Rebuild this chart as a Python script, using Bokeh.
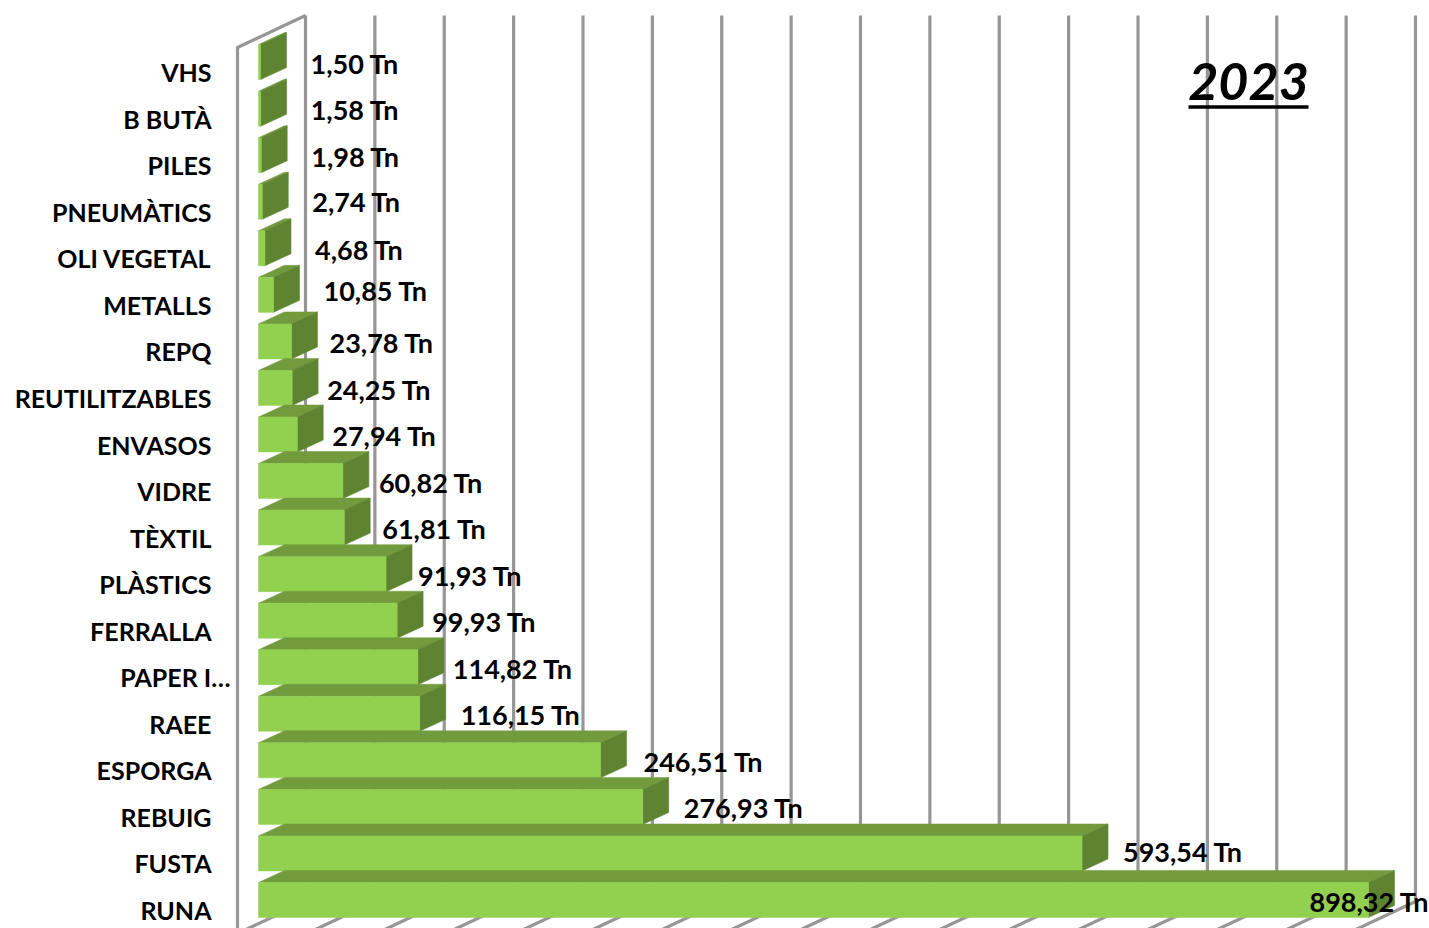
from bokeh.plotting import figure
from bokeh.models import ColumnDataSource, Range1d, Label
from bokeh.core.properties import value
from bokeh.embed import file_html
from bokeh.resources import INLINE

# ---- data ----
categories = ["VHS", "B BUTÀ", "PILES", "PNEUMÀTICS", "OLI VEGETAL", "METALLS", "REPQ",
              "REUTILITZABLES", "ENVASOS", "VIDRE", "TÈXTIL", "PLÀSTICS", "FERRALLA",
              "PAPER I…", "RAEE", "ESPORGA", "REBUIG", "FUSTA", "RUNA"]
tonnes = [1.50, 1.58, 1.98, 2.74, 4.68, 10.85, 23.78, 24.25, 27.94, 60.82, 61.81, 91.93,
          99.93, 114.82, 116.15, 246.51, 276.93, 593.54, 898.32]
value_labels = ["1,50 Tn", "1,58 Tn", "1,98 Tn", "2,74 Tn", "4,68 Tn", "10,85 Tn", "23,78 Tn",
                "24,25 Tn", "27,94 Tn", "60,82 Tn", "61,81 Tn", "91,93 Tn", "99,93 Tn",
                "114,82 Tn", "116,15 Tn", "246,51 Tn", "276,93 Tn", "593,54 Tn", "898,32 Tn"]
axis_ticks = list(range(0, 801, 50))
title_text = "2023"

# ---- layout (page pixels) ----
W, H = 1429, 928
PAGE = 1
BAR_X0 = 259.0          # page x of value 0 on bar plane
PX_PER_T = 1.3875
ROW_LAST_Y = 900.5      # page y of centre of the last row
ROW_STEP = 46.55
BAR_H_PX = 35.0
BAR_DX, BAR_DY = 26.0, 12.0
WALL_X = 238.0
WALL_DX, WALL_DY = 68.0, 32.0
GRID_TOP, GRID_BOTTOM = 16.0, 902.0
N = len(categories)

# per-row nudges of the labels, as drawn by the original (px from bar end / row centre)
label_dx = [50, 50, 50, 50, 50, 50, 38, 35, 35, 36, 38, 32, 35, 35, 41, 43, 41, 41, -59]
label_dy = [1, 1, 1, 0, 1, -4, 1, 2, 1, 1, 1, 1, 1, 1, 1, 1, 1, -2, 1]
cat_dx = [0] * N
cat_dx[categories.index("PAPER I…")] = 19


def vx(px):
    return (px - BAR_X0) / PX_PER_T


def ry(py):
    return (N - 1) - (ROW_LAST_Y - py) / ROW_STEP


AX_MAX = axis_ticks[-1]
p = figure(width=W, height=H, output_backend="svg", toolbar_location=None,
           x_axis_type=None, y_axis_type=None, min_border=0,
           x_range=Range1d(vx(PAGE), vx(PAGE + W)),
           y_range=Range1d(ry(PAGE + H), ry(PAGE)))
p.outline_line_color = None
p.background_fill_color = "white"
p.border_fill_color = "white"

GRID = "#969696"
GW = 3.2
d_x = BAR_DX / PX_PER_T
d_y = BAR_DY / ROW_STEP
h_y = BAR_H_PX / ROW_STEP

# wall + gridlines
wall_off = WALL_X + WALL_DX - BAR_X0
gx = [t + wall_off / PX_PER_T for t in axis_ticks]
p.segment(x0=gx, x1=gx, y0=[ry(GRID_TOP)] * len(gx), y1=[ry(GRID_BOTTOM)] * len(gx),
          line_color=GRID, line_width=GW)
fx = [g - WALL_DX / PX_PER_T for g in gx]
p.segment(x0=gx, x1=fx, y0=[ry(GRID_BOTTOM)] * len(gx), y1=[ry(GRID_BOTTOM + WALL_DY)] * len(gx),
          line_color=GRID, line_width=GW)
p.line(x=[vx(WALL_X), vx(WALL_X), vx(WALL_X + WALL_DX)],
       y=[ry(PAGE + H + 5), ry(GRID_TOP + WALL_DY), ry(GRID_TOP)],
       line_color=GRID, line_width=GW)

# bars, back to front
tops, sides, fronts = {"x": [], "y": []}, {"x": [], "y": []}, {"l": [], "r": [], "t": [], "b": []}
clipped = [min(v, AX_MAX) for v in tonnes]
for i, v in enumerate(clipped):
    t, b = i - h_y / 2, i + h_y / 2
    tops["x"].append([0, v, v + d_x, d_x])
    tops["y"].append([t, t, t - d_y, t - d_y])
    sides["x"].append([v, v + d_x, v + d_x, v])
    sides["y"].append([t, t - d_y, b - d_y, b])
    fronts["l"].append(0)
    fronts["r"].append(v)
    fronts["t"].append(t)
    fronts["b"].append(b)

for i in range(N):
    p.patch(x=tops["x"][i], y=tops["y"][i], fill_color="#729B3E", line_color="#729B3E", line_width=0.5)
    p.patch(x=sides["x"][i], y=sides["y"][i], fill_color="#5E8431", line_color="#5E8431", line_width=0.5)
    p.quad(left=fronts["l"][i], right=fronts["r"][i], top=fronts["t"][i], bottom=fronts["b"][i],
           fill_color="#92D050", line_color="#92D050", line_width=0.5)

rows = list(range(N))
# category labels
p.text(x=[vx(212)] * N, y=rows, text=categories, text_align="right", text_baseline="middle",
       x_offset=cat_dx, y_offset=[10] * N, text_font=value("Lato"), text_font_style="bold",
       text_font_size="25px", text_color="black")
# value labels
src = ColumnDataSource(dict(x=clipped, y=rows, text=value_labels, xo=label_dx, yo=label_dy))
p.text(x="x", y="y", text="text", x_offset="xo", y_offset="yo", source=src,
       text_align="left", text_baseline="middle", text_font=value("Lato"),
       text_font_style="bold", text_font_size="27px", text_color="black")

# year title
p.add_layout(Label(x=vx(1249), y=ry(82), text=title_text, text_align="center", text_baseline="middle",
                   text_font="Lato", text_font_style="bold italic", text_font_size="52px",
                   text_color="black"))
p.segment(x0=[vx(1189)], x1=[vx(1309)], y0=[ry(107.5)], y1=[ry(107.5)], line_color="black", line_width=3.5)

open("out.html", "w").write(file_html(p, INLINE))
